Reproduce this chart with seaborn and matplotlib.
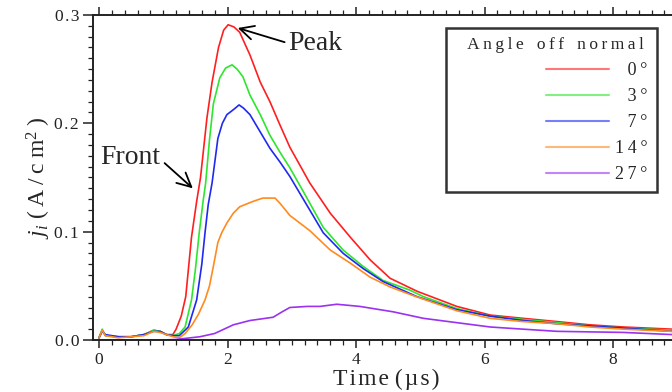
import numpy as np
import pandas as pd
import matplotlib
matplotlib.use("Agg")
import matplotlib.pyplot as plt
import seaborn as sns

# ---------------- data ----------------
angles = ["0°", "3°", "7°", "14°", "27°"]
colors = ["#ff1f1f", "#2ee62e", "#1f2af0", "#ff8a1f", "#9a32f0"]

t_red = [0, 0.05, 0.1, 0.3, 0.5, 0.7, 0.85, 0.95, 1.05, 1.15, 1.2, 1.28, 1.35, 1.44, 1.52,
         1.58, 1.68, 1.76, 1.86, 1.94, 2.01, 2.1, 2.19, 2.35, 2.51, 2.66, 2.82, 2.97, 3.13,
         3.28, 3.6, 3.91, 4.22, 4.53, 4.95, 5.57, 6.09, 6.6, 7.13, 7.64, 8.16, 8.92]
j_red = [0.002, 0.009, 0.004, 0.003, 0.003, 0.005, 0.009, 0.008, 0.005, 0.005, 0.010, 0.022,
         0.040, 0.095, 0.128, 0.150, 0.205, 0.238, 0.270, 0.286, 0.291, 0.289, 0.284, 0.263,
         0.238, 0.220, 0.198, 0.178, 0.161, 0.145, 0.117, 0.095, 0.074, 0.057, 0.045, 0.031,
         0.023, 0.020, 0.017, 0.014, 0.012, 0.010]

t_green = [0, 0.05, 0.1, 0.3, 0.5, 0.7, 0.85, 0.95, 1.05, 1.15, 1.25, 1.34, 1.44, 1.5, 1.56,
           1.62, 1.66, 1.72, 1.78, 1.88, 1.97, 2.07, 2.15, 2.24, 2.35, 2.51, 2.66, 2.82, 2.97,
           3.18, 3.49, 3.8, 4.11, 4.42, 4.84, 5.05, 5.57, 6.09, 6.6, 7.13, 7.64, 8.16, 8.92]
j_green = [0.002, 0.010, 0.004, 0.003, 0.003, 0.005, 0.009, 0.008, 0.005, 0.004, 0.006, 0.012,
           0.037, 0.065, 0.099, 0.128, 0.145, 0.185, 0.218, 0.242, 0.251, 0.254, 0.250, 0.243,
           0.226, 0.208, 0.189, 0.173, 0.159, 0.137, 0.104, 0.083, 0.068, 0.055, 0.046, 0.040,
           0.029, 0.022, 0.019, 0.016, 0.013, 0.011, 0.009]

t_blue = [0, 0.05, 0.1, 0.3, 0.5, 0.7, 0.85, 0.95, 1.05, 1.15, 1.25, 1.39, 1.52, 1.6, 1.65,
          1.7, 1.76, 1.85, 1.92, 1.99, 2.1, 2.18, 2.25, 2.35, 2.51, 2.66, 2.82, 2.97, 3.18,
          3.49, 3.8, 4.11, 4.42, 4.95, 5.57, 6.09, 6.6, 7.13, 7.64, 8.16, 8.92]
j_blue = [0.002, 0.008, 0.005, 0.003, 0.003, 0.005, 0.008, 0.008, 0.005, 0.004, 0.004, 0.012,
          0.037, 0.070, 0.099, 0.125, 0.145, 0.186, 0.200, 0.208, 0.213, 0.217, 0.214, 0.208,
          0.192, 0.177, 0.164, 0.151, 0.130, 0.099, 0.080, 0.066, 0.054, 0.040, 0.028, 0.022,
          0.018, 0.015, 0.013, 0.011, 0.008]

t_orange = [0, 0.05, 0.1, 0.3, 0.5, 0.7, 0.85, 0.95, 1.05, 1.15, 1.25, 1.34, 1.45, 1.55, 1.65,
            1.72, 1.78, 1.85, 1.91, 1.99, 2.09, 2.19, 2.4, 2.55, 2.74, 2.82, 2.97, 3.28, 3.6,
            3.91, 4.22, 4.53, 4.89, 5.57, 6.09, 6.6, 7.13, 7.64, 8.16, 8.92]
j_orange = [0.002, 0.009, 0.004, 0.002, 0.003, 0.004, 0.008, 0.007, 0.005, 0.003, 0.002, 0.006,
            0.014, 0.024, 0.037, 0.050, 0.068, 0.090, 0.099, 0.108, 0.117, 0.123, 0.128, 0.131,
            0.131, 0.126, 0.115, 0.101, 0.083, 0.071, 0.058, 0.049, 0.041, 0.027, 0.020, 0.017,
            0.015, 0.012, 0.010, 0.008]

t_purple = [0, 0.5, 1.0, 1.2, 1.57, 1.8, 2.09, 2.35, 2.71, 2.85, 2.97, 3.24, 3.44, 3.7, 4.06,
            4.58, 5.05, 5.57, 6.09, 6.6, 7.13, 7.64, 8.16, 8.92]
j_purple = [0.0, 0.0, 0.0, 0.0005, 0.003, 0.006, 0.014, 0.018, 0.021, 0.026, 0.030, 0.031,
            0.031, 0.033, 0.031, 0.026, 0.020, 0.016, 0.012, 0.010, 0.008, 0.0075, 0.007, 0.005]

series_t = [t_red, t_green, t_blue, t_orange, t_purple]
series_j = [j_red, j_green, j_blue, j_orange, j_purple]

frames = []
for ang, tt, jj in zip(angles, series_t, series_j):
    frames.append(pd.DataFrame({"t": tt, "j": jj, "angle": ang}))
df = pd.concat(frames, ignore_index=True)

# ---------------- styling ----------------
sns.set_theme(style="ticks")
plt.rcParams["font.family"] = ["Liberation Serif", "DejaVu Serif"]
plt.rcParams["mathtext.fontset"] = "custom"
plt.rcParams["mathtext.rm"] = "Liberation Serif"
plt.rcParams["mathtext.it"] = "Liberation Serif:italic"

W, H = 672, 392
fig = plt.figure(figsize=(W / 100, H / 100), dpi=100)
ax_left, ax_right, ax_top, ax_bot = 93, 680, 15, 340
ax = fig.add_axes([ax_left / W, 1 - ax_bot / H, (ax_right - ax_left) / W, (ax_bot - ax_top) / H])

sns.lineplot(data=df, x="t", y="j", hue="angle", hue_order=angles,
             palette=dict(zip(angles, colors)), estimator=None, sort=False,
             legend=False, linewidth=1.2, ax=ax)

px_per_us = 64.25
ax.set_xlim((ax_left - 99) / px_per_us, (ax_right - 99) / px_per_us)
ax.set_ylim(0, 0.3)

hs = "\u200a"
ts = "\u2009"
xticks = [0, 2, 4, 6, 8]
yticks = [0.0, 0.1, 0.2, 0.3]
ax.set_xticks(xticks)
ax.set_xticklabels([str(v) for v in xticks])
ax.set_xticks(np.arange(0, 9.01, 0.2), minor=True)
ax.set_yticks(yticks)
ax.set_yticklabels([hs.join(f"{v:.1f}") for v in yticks])
ax.set_yticks(np.arange(0, 0.301, 0.01), minor=True)
ax.tick_params(which="major", direction="out", length=7, width=1.1, labelsize=12.5,
               colors="#222222", pad=3, top=True, bottom=True, left=True, right=False)
ax.tick_params(which="minor", direction="out", length=3.5, width=0.9, top=True,
               bottom=True, left=True, right=False, colors="#222222")
ax.tick_params(axis="x", which="major", top=True, length=6)
for s in ["left", "bottom", "top"]:
    ax.spines[s].set_linewidth(1.4)
    ax.spines[s].set_color("#222222")
ax.spines["right"].set_visible(False)

ax.set_xlabel(hs.join("Time") + " " + hs.join("(µs)"), fontsize=17, labelpad=0)
ax.set_ylabel(r"$j_i$" + " " + ts.join("(A/cm") + r"$^2$" + ts + ")", fontsize=17, labelpad=1)

# annotations
ax.annotate("Peak", xy=(2.16, 0.288), xytext=(2.94, 0.274), fontsize=20,
            ha="left", va="center",
            arrowprops=dict(arrowstyle="->", lw=1.3, color="black", relpos=(0.0, 0.5),
                            mutation_scale=25, shrinkA=0, shrinkB=0))
ax.annotate("Front", xy=(1.46, 0.140), xytext=(0.02, 0.168), fontsize=20,
            ha="left", va="center",
            arrowprops=dict(arrowstyle="->", lw=1.3, color="black", relpos=(1.0, 0.45),
                            mutation_scale=25, shrinkA=1, shrinkB=0))

# legend
fsp = "\u2007"
labels = [fsp + ts + "0" + ts + "°", fsp + ts + "3" + ts + "°",
          fsp + ts + "7" + ts + "°", "1" + ts + "4" + ts + "°", "2" + ts + "7" + ts + "°"]
handles = ax.get_lines()[:5]
title = "   " + ts.join("Angle") + "   " + ts.join("off") + "   " + ts.join("normal") + " "
leg = ax.legend(handles, labels, title=title, loc="upper right",
                bbox_to_anchor=((657 - ax_left) / (ax_right - ax_left), (ax_bot - 28) / (ax_bot - ax_top)),
                borderaxespad=0, fontsize=13, title_fontsize=12.5, handlelength=3.5,
                handletextpad=0.35, labelspacing=0.5, alignment="right",
                frameon=True, fancybox=False, edgecolor="black", borderpad=0.5)
leg.get_frame().set_linewidth(1.8)
for ln in leg.get_lines():
    ln.set_linewidth(1.5)
    ln.set_alpha(0.6)

fig.savefig("out.png", dpi=100)
